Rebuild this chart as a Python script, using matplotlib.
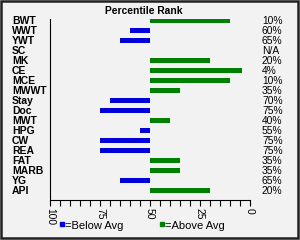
import matplotlib
matplotlib.use("Agg")
import matplotlib.pyplot as plt
from matplotlib.lines import Line2D
from matplotlib.patches import Rectangle

plt.rcParams['font.family'] = ['Liberation Sans', 'DejaVu Sans']

# traits and their percentile ranks (None = N/A)
traits = ['BWT', 'WWT', 'YWT', 'SC', 'MK', 'CE', 'MCE', 'MWWT', 'Stay', 'Doc',
          'MWT', 'HPG', 'CW', 'REA', 'FAT', 'MARB', 'YG', 'API']
ranks = [10, 60, 65, None, 20, 4, 10, 35, 70, 75,
         40, 55, 75, 75, 35, 35, 65, 20]
rank_labels = ['10%', '60%', '65%', 'N/A', '20%', '4%', '10%', '35%', '70%', '75%',
               '40%', '55%', '75%', '75%', '35%', '35%', '65%', '20%']
x_ticks = [100, 75, 50, 25, 0]

BLUE = '#0000d8'
GREEN = '#008000'
BG = '#f2f2f2'

fig = plt.figure(figsize=(3, 2.4), dpi=100, facecolor=BG)
ax = fig.add_axes([50 / 300, 1 - 200 / 240, 200 / 300, 181 / 240])
ax.set_facecolor(BG)

for i, r in enumerate(ranks):
    if r is not None:
        color = BLUE if r > 50 else GREEN
        ax.barh(i, r - 50, left=50, height=0.45, color=color)
    ax.text(-6, i, rank_labels[i], ha='left', va='center', fontsize=7.4, clip_on=False)

ax.set_xlim(100, 0)
ax.set_ylim(17.95, -0.15)

ax.set_xticks(x_ticks)
ax.set_xticklabels([str(t) for t in x_ticks], rotation=-90, fontsize=7.4)
ax.set_xticks(range(0, 101, 5), minor=True)
ax.tick_params(axis='x', which='both', length=4, width=0.8, direction='out', pad=1.5)

ax.set_yticks(range(len(traits)))
ax.set_yticklabels(traits, fontsize=7.5, fontweight='bold')
ax.tick_params(axis='y', length=0, pad=27.4)
for lab in ax.get_yticklabels():
    lab.set_horizontalalignment('left')

ax.spines['top'].set_visible(False)
ax.spines['right'].set_visible(False)

fig.text(143.5 / 300, 1 - 11.5 / 240, 'Percentile Rank', ha='center', va='center',
         fontsize=7.4, fontweight='bold')

# legend
fig.add_artist(Line2D([62 / 300], [1 - 224 / 240], marker='s', markersize=3.2,
                      color=BLUE, linestyle='none', transform=fig.transFigure))
fig.text(65 / 300, 1 - 226 / 240, '=Below Avg', ha='left', va='center', fontsize=8)
fig.add_artist(Line2D([162 / 300], [1 - 224 / 240], marker='s', markersize=3.2,
                      color=GREEN, linestyle='none', transform=fig.transFigure))
fig.text(165 / 300, 1 - 226 / 240, '=Above Avg', ha='left', va='center', fontsize=8)

# border around figure
fig.add_artist(Rectangle((0.004, 0.008), 0.99, 0.986, transform=fig.transFigure,
                         fill=False, edgecolor='#202020', linewidth=1.8))

fig.savefig('out.png', dpi=100, facecolor=BG)
